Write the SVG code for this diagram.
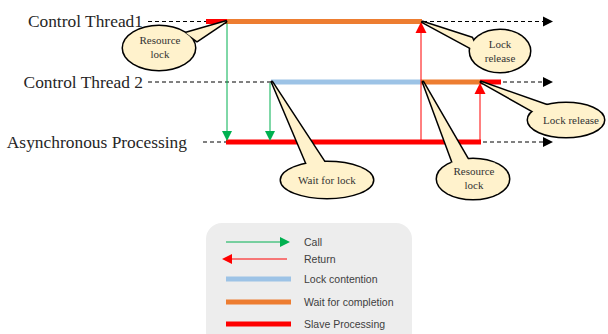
<svg xmlns="http://www.w3.org/2000/svg" width="608" height="334" viewBox="0 0 608 334">
<defs>
<style>
.lbl{font-family:"Liberation Serif","Times New Roman",serif;font-size:17.4px;fill:#262626}
.ct{font-family:"Liberation Serif","Times New Roman",serif;font-size:11px;fill:#333}
.lg{font-family:"Liberation Sans",Arial,sans-serif;font-size:10.5px;fill:#404040}
.dash{stroke:#000;stroke-width:1;stroke-dasharray:4 3;fill:none}
.red{stroke:#FF0000;stroke-width:5;fill:none}
.org{stroke:#ED7D31;stroke-width:5;fill:none}
.blu{stroke:#9DC3E6;stroke-width:5;fill:none}
.cout{fill:#000;stroke:#000;stroke-width:3;stroke-linejoin:round}
.cin{fill:#FFF2CC;stroke:none}
</style>
</defs>
<rect width="608" height="334" fill="#fff"/>

<g id="labels">
<text class="lbl" x="143" y="27" text-anchor="end">Control Thread1</text>
<text class="lbl" x="143" y="88" text-anchor="end">Control Thread 2</text>
<text class="lbl" x="187" y="148" text-anchor="end">Asynchronous Processing</text>
</g>

<g id="connectors">
<line class="dash" x1="148" y1="21.5" x2="206" y2="21.5"/>
<line class="red" x1="206" y1="21.5" x2="227" y2="21.5"/>
<line class="org" x1="227" y1="21.5" x2="422" y2="21.5"/>
<line class="dash" x1="423" y1="21.5" x2="545" y2="21.5"/>
<polygon points="543,16.5 553,21.5 543,26.5" fill="#000"/>
<line class="dash" x1="148" y1="82" x2="271" y2="82"/>
<line class="blu" x1="271" y1="82" x2="421" y2="82"/>
<line class="org" x1="421" y1="82" x2="480" y2="82"/>
<line class="red" x1="480" y1="82" x2="501" y2="82"/>
<line class="dash" x1="503" y1="82" x2="545" y2="82"/>
<polygon points="543,77 553,82 543,87" fill="#000"/>
<line class="dash" x1="203" y1="142" x2="226" y2="142"/>
<line class="red" x1="226" y1="142" x2="481" y2="142"/>
<line class="dash" x1="483" y1="142" x2="545" y2="142"/>
<polygon points="543,137 553,142 543,147" fill="#000"/>
<line x1="227" y1="23" x2="227" y2="133" stroke="#00B050" stroke-width="1"/>
<polygon points="222,131 232,131 227,141" fill="#00B050"/>
<line x1="270" y1="83" x2="270" y2="133" stroke="#00B050" stroke-width="1"/>
<polygon points="265,131 275,131 270,141" fill="#00B050"/>
<line x1="421" y1="140" x2="421" y2="31" stroke="#FF0000" stroke-width="1"/>
<polygon points="421,22 426.5,33 415.5,33" fill="#FF0000"/>
<line x1="480" y1="140" x2="480" y2="92" stroke="#FF0000" stroke-width="1"/>
<polygon points="480,83 485.5,94 474.5,94" fill="#FF0000"/>
</g>

<g id="callout-resource-lock-1">
<ellipse class="cout" cx="159" cy="48" rx="36" ry="22"/>
<polygon class="cout" points="226,21.5 186,33 197,41"/>
<ellipse class="cin" cx="159" cy="48" rx="36" ry="22"/>
<polygon class="cin" points="226,21.5 186,33 197,41"/>
<text class="ct" x="160" y="44" text-anchor="middle">Resource</text>
<text class="ct" x="160" y="58" text-anchor="middle">lock</text>
</g>

<g id="callout-lock-release-1">
<ellipse class="cout" cx="500" cy="51" rx="30" ry="21"/>
<polygon class="cout" points="422.5,22 472,38 478,52"/>
<ellipse class="cin" cx="500" cy="51" rx="30" ry="21"/>
<polygon class="cin" points="422.5,22 472,38 478,52"/>
<text class="ct" x="500" y="48" text-anchor="middle">Lock</text>
<text class="ct" x="500" y="62" text-anchor="middle">release</text>
</g>

<g id="callout-wait-for-lock">
<ellipse class="cout" cx="327" cy="180" rx="46" ry="18"/>
<polygon class="cout" points="272,82 308,167 327,166"/>
<ellipse class="cin" cx="327" cy="180" rx="46" ry="18"/>
<polygon class="cin" points="272,82 308,167 327,166"/>
<text class="ct" x="327" y="184" text-anchor="middle">Wait for lock</text>
</g>

<g id="callout-resource-lock-2">
<ellipse class="cout" cx="473" cy="179" rx="36" ry="20"/>
<polygon class="cout" points="423,82 454,166 470,163"/>
<ellipse class="cin" cx="473" cy="179" rx="36" ry="20"/>
<polygon class="cin" points="423,82 454,166 470,163"/>
<text class="ct" x="474" y="175" text-anchor="middle">Resource</text>
<text class="ct" x="474" y="189" text-anchor="middle">lock</text>
</g>

<g id="callout-lock-release-2">
<ellipse class="cout" cx="566" cy="120" rx="38" ry="17"/>
<polygon class="cout" points="481,82 536,113 549,106"/>
<ellipse class="cin" cx="566" cy="120" rx="38" ry="17"/>
<polygon class="cin" points="481,82 536,113 549,106"/>
<text class="ct" x="571" y="124" text-anchor="middle">Lock release</text>
</g>

<g id="legend">
<rect x="206" y="223" width="206" height="125" rx="16" ry="16" fill="#EDEDED"/>
<line x1="226" y1="242" x2="282" y2="242" stroke="#00B050" stroke-width="1"/>
<polygon points="280,237 290,242 280,247" fill="#00B050"/>
<text class="lg" x="304" y="246">Call</text>
<line x1="287" y1="259" x2="230" y2="259" stroke="#FF0000" stroke-width="1"/>
<polygon points="232,254 222,259 232,264" fill="#FF0000"/>
<text class="lg" x="304" y="263">Return</text>
<line x1="226" y1="279" x2="291" y2="279" stroke="#9DC3E6" stroke-width="5"/>
<text class="lg" x="304" y="283">Lock contention</text>
<line x1="226" y1="302" x2="291" y2="302" stroke="#ED7D31" stroke-width="5"/>
<text class="lg" x="304" y="306">Wait for completion</text>
<line x1="226" y1="324" x2="291" y2="324" stroke="#FF0000" stroke-width="5"/>
<text class="lg" x="304" y="328">Slave Processing</text>
</g>
</svg>
